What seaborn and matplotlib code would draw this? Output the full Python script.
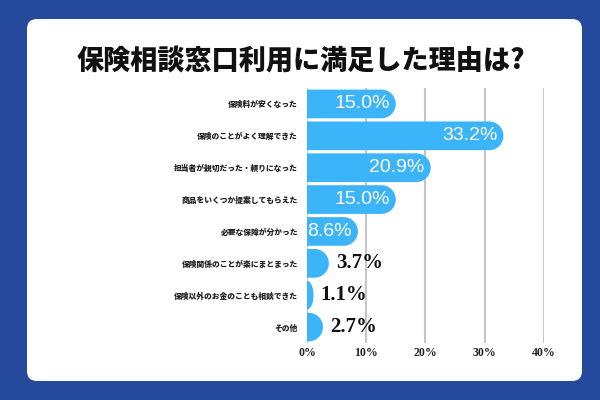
import numpy as np
import pandas as pd
import matplotlib.pyplot as plt
import seaborn as sns
from matplotlib.patches import FancyBboxPatch, Polygon

title = '保険相談窓口利用に満足した理由は?'
reasons = ['保険料が安くなった', '保険のことがよく理解できた', '担当者が親切だった・頼りになった',
           '商品をいくつか提案してもらえた', '必要な保障が分かった', '保険関係のことが楽にまとまった',
           '保険以外のお金のことも相談できた', 'その他']
shares = [15.0, 33.2, 20.9, 15.0, 8.6, 3.7, 1.1, 2.7]
ticks = [0, 10, 20, 30, 40]

df = pd.DataFrame({'reason': reasons, 'share': shares})

bar_color = '#3cb4fa'
navy = '#254a9d'

sns.set_theme(style='white')
plt.rcParams['font.family'] = ['Noto Sans CJK JP', 'DejaVu Sans']

fig = plt.figure(figsize=(6, 4), dpi=100)
fig.patch.set_facecolor(navy)

# white card with rounded corners (behind everything)
card = FancyBboxPatch((0.045, 0.0475), 0.925, 0.905,
                      boxstyle='round,pad=0,rounding_size=0.0167', mutation_aspect=1.5,
                      transform=fig.transFigure, facecolor='white', edgecolor='none', zorder=-10)
fig.patches.append(card)

fig.text(0.502, 1 - 61 / 400, title, ha='center', va='center', fontsize=19.5, weight='heavy',
         color='#111111', zorder=5)

ax = fig.add_axes([307 / 600, 1 - 343 / 400, (543.7 - 307) / 600, (343 - 88) / 400])
ax.set_zorder(2)
ax.set_facecolor('none')
sns.barplot(data=df, x='share', y='reason', orient='h', color=bar_color, saturation=1,
            width=0.9, ax=ax, zorder=3)

ax.set_xlim(0, 40)
ax.set_ylim(len(reasons) - 0.5, -0.5)
ax.set_xticks(ticks)
ax.set_xticklabels([f'{t}%' for t in ticks], family='Liberation Serif', weight='bold',
                   fontsize=8.5, color='#222222')
ax.set_yticks(range(len(reasons)))
ax.set_yticklabels(reasons, fontsize=5.6, weight='heavy', color='#222222')
ax.tick_params(axis='both', length=0)
ax.tick_params(axis='x', pad=3)
ax.tick_params(axis='y', pad=6.5)
ax.set_xlabel('')
ax.set_ylabel('')
ax.xaxis.grid(True, color='#c6c6c6', linewidth=1.5)
ax.yaxis.grid(False)
ax.set_axisbelow(True)
for s in ax.spines.values():
    s.set_visible(False)

# data units per pixel, to round the bar ends in screen space
ppx = ax.transData.transform((10, 0))[0] - ax.transData.transform((0, 0))[0]
ux = 10 / ppx
ppy = abs(ax.transData.transform((0, 1))[1] - ax.transData.transform((0, 0))[1])

theta = np.linspace(-np.pi / 2, np.pi / 2, 40)
for bar in list(ax.patches):
    x0, y0, w, h = bar.get_x(), bar.get_y(), bar.get_width(), bar.get_height()
    bar.set_visible(False)
    yc = y0 + h / 2
    rx = min(h / 2 * ppy * ux, w)
    xc = x0 + w - rx
    arc = np.column_stack([xc + rx * np.cos(theta), yc + h / 2 * np.sin(theta)])
    verts = np.vstack([[[x0, y0], [xc, y0]], arc, [[xc, y0 + h], [x0, y0 + h]]])
    ax.add_patch(Polygon(verts, closed=True, facecolor=bar_color, edgecolor='none', zorder=3))

for i, v in enumerate(shares):
    if v >= 8:
        ax.text(v - 6 * ux, i, f'{v:.1f}%', ha='right', va='center', color='white',
                fontsize=14, family='Liberation Sans', zorder=4)
    else:
        ax.text(v + 7 * ux, i, f'{v:.1f}%', ha='left', va='center', color='#111111',
                fontsize=15, family='Liberation Serif', weight='bold', zorder=4)

fig.savefig('out.png', dpi=100, facecolor=fig.get_facecolor())
